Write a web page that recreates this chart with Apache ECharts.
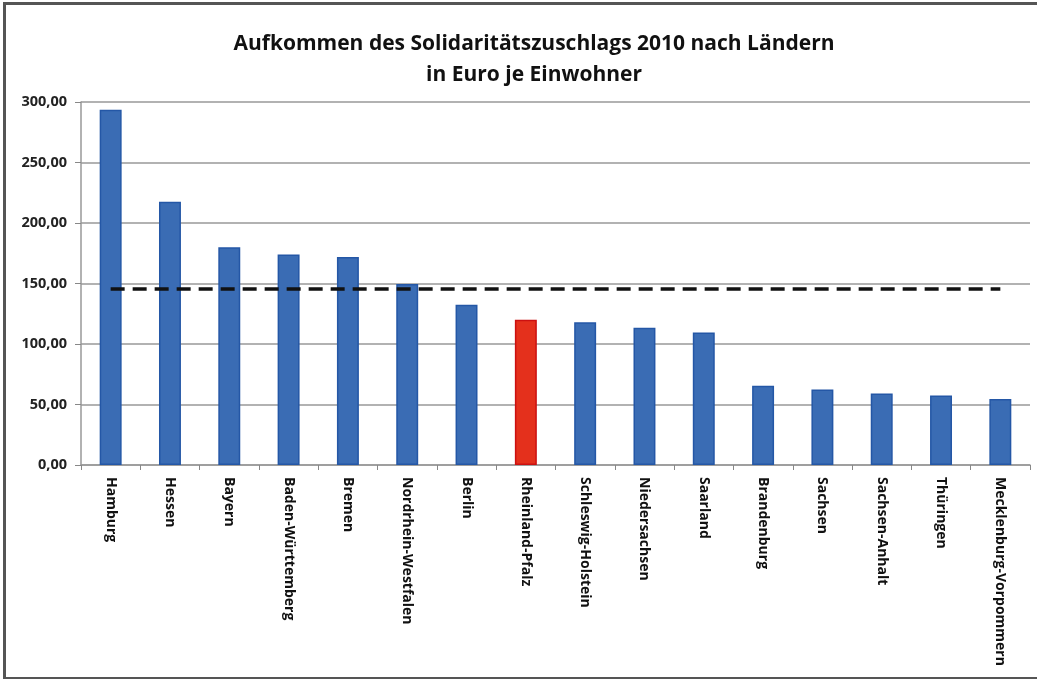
<!DOCTYPE html>
<html><head><meta charset="utf-8">
<script src="https://cdn.jsdelivr.net/npm/echarts@6/dist/echarts.min.js"></script>
<style>
html,body{margin:0;padding:0;background:#fff;}
#frame{position:absolute;left:3px;top:2px;width:1040px;height:672px;border-left:3px solid #555;border-top:3px solid #555;border-bottom:3px solid #555;box-sizing:content-box;}
#c{position:absolute;left:0;top:0;width:1037px;height:679px;}
</style></head>
<body>
<div id="frame"></div>
<div id="c"></div>
<script>
var categories = ["Hamburg","Hessen","Bayern","Baden-Württemberg","Bremen","Nordrhein-Westfalen","Berlin","Rheinland-Pfalz","Schleswig-Holstein","Niedersachsen","Saarland","Brandenburg","Sachsen","Sachsen-Anhalt","Thüringen","Mecklenburg-Vorpommern"];
var values = [293.5, 217.5, 180, 174, 172, 149.5, 132.5, 120, 118, 113.5, 109.5, 65.5, 62.5, 59, 57.5, 54.5];
var average = [145.5,145.5,145.5,145.5,145.5,145.5,145.5,145.5,145.5,145.5,145.5,145.5,145.5,145.5,145.5,145.5];
var highlight = "Rheinland-Pfalz";
var titleLines = ["Aufkommen des Solidaritätszuschlags 2010 nach Ländern", "in Euro je Einwohner"];

var chart = echarts.init(document.getElementById('c'));
var font = "'Open Sans', 'Noto Sans', sans-serif";
chart.setOption({
  animation:false,
  title:{text:titleLines.join('\n'), left:529, textAlign:'center', top:24,
    textStyle:{fontFamily:font, fontSize:21, fontWeight:'bold', color:'#111', lineHeight:31}},
  grid:{left:81, right:7, top:102, bottom:214, containLabel:false},
  xAxis:{type:'category', data:categories,
    axisLine:{lineStyle:{color:'#999', width:1.5}},
    axisTick:{show:true, interval:0, length:5, lineStyle:{color:'#888'}},
    axisLabel:{interval:0, rotate:-90, margin:12, fontFamily:font, fontSize:14, fontWeight:'bold', color:'#111'}},
  yAxis:{type:'value', min:0, max:300, interval:50,
    axisLine:{show:true, lineStyle:{color:'#999', width:1.5}},
    axisTick:{show:true, length:6, lineStyle:{color:'#888'}},
    splitLine:{lineStyle:{color:'#999', width:1.5}},
    axisLabel:{margin:14, fontFamily:font, fontSize:14.5, fontWeight:'bold', color:'#222',
      formatter:function(v){return v.toFixed(2).replace('.',',');}}},
  series:[
    {type:'bar', barWidth:'37%',
     data:values.map(function(v,i){
       var red = categories[i]===highlight;
       return {value:v, itemStyle:{color: red?'#e4301c':'#3a6cb4', borderColor: red?'#cc1010':'#2457a6', borderWidth:1.5}};
     })},
    {type:'line', data:average, symbol:'none', silent:true,
     lineStyle:{color:'#111', width:3.5, type:[14,8]}, z:5}
  ]
});
</script>
</body></html>
